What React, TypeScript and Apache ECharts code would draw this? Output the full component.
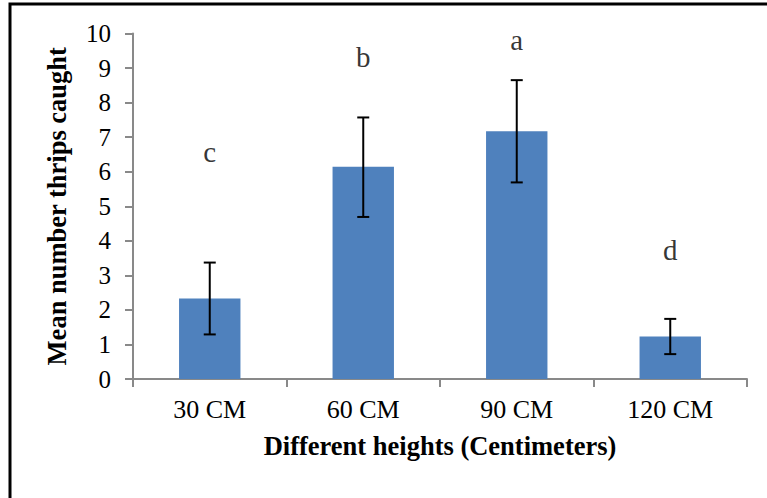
import React, { useEffect, useRef } from "react";
import * as echarts from "echarts";

const categories = ["30 CM", "60 CM", "90 CM", "120 CM"];
const meanValues = [2.33, 6.14, 7.17, 1.23];
const errorLow = [1.29, 4.69, 5.69, 0.72];
const errorHigh = [3.37, 7.57, 8.65, 1.74];
const letters = ["c", "b", "a", "d"];
const letterPositions = [6.57, 9.33, 9.8, 3.73];
const yTicks = { min: 0, max: 10, interval: 1 };

const FONT = "'Liberation Serif', 'Times New Roman', serif";
const AXIS_COLOR = "#898989";

export default function App() {
  const ref = useRef<HTMLDivElement>(null);
  useEffect(() => {
    if (!ref.current) return;
    const chart = echarts.init(ref.current, undefined, { renderer: "svg" });
    const errData = categories.map((_, i) => [i, errorLow[i], errorHigh[i]]);
    const letterData = categories.map((_, i) => [i, letterPositions[i], letters[i]]);
    chart.setOption({
      animation: false,
      backgroundColor: "#ffffff",
      graphic: [
        {
          type: "rect",
          shape: { x: 10, y: 4, width: 900, height: 700 },
          style: { fill: "none", stroke: "#000", lineWidth: 3 },
          silent: true,
        },
      ],
      grid: { left: 133, right: 20, top: 33.5, bottom: 119, containLabel: false },
      xAxis: {
        type: "category",
        data: categories,
        boundaryGap: true,
        name: "Different heights (Centimeters)",
        nameLocation: "middle",
        nameGap: 53,
        nameTextStyle: { fontFamily: FONT, fontSize: 26.5, fontWeight: "bold", color: "#000" },
        axisLine: { lineStyle: { color: AXIS_COLOR, width: 2 } },
        axisTick: { show: true, alignWithLabel: false, length: 8, lineStyle: { color: AXIS_COLOR, width: 2 } },
        axisLabel: { fontFamily: FONT, fontSize: 26, color: "#000", margin: 17 },
        splitLine: { show: false },
      },
      yAxis: {
        type: "value",
        min: yTicks.min,
        max: yTicks.max,
        interval: yTicks.interval,
        name: "Mean number thrips caught",
        nameLocation: "middle",
        nameGap: 63,
        nameRotate: 90,
        nameTextStyle: { fontFamily: FONT, fontSize: 26.5, fontWeight: "bold", color: "#000" },
        axisLine: { show: true, lineStyle: { color: AXIS_COLOR, width: 2 } },
        axisTick: { show: true, length: 8, lineStyle: { color: AXIS_COLOR, width: 2 } },
        axisLabel: { fontFamily: FONT, fontSize: 25, color: "#000", margin: 22 },
        splitLine: { show: false },
      },
      series: [
        {
          type: "bar",
          data: meanValues,
          barWidth: "40%",
          itemStyle: { color: "#4F81BD" },
        },
        {
          type: "custom",
          data: errData,
          z: 10,
          renderItem: (params: any, api: any) => {
            const x = api.value(0);
            const lo = api.coord([x, api.value(1)]);
            const hi = api.coord([x, api.value(2)]);
            const half = 6;
            const style = { stroke: "#000", lineWidth: 2 };
            return {
              type: "group",
              children: [
                { type: "line", shape: { x1: lo[0], y1: lo[1], x2: hi[0], y2: hi[1] }, style },
                { type: "line", shape: { x1: hi[0] - half, y1: hi[1], x2: hi[0] + half, y2: hi[1] }, style },
                { type: "line", shape: { x1: lo[0] - half, y1: lo[1], x2: lo[0] + half, y2: lo[1] }, style },
              ],
            };
          },
        },
        {
          type: "scatter",
          data: letterData,
          symbolSize: 0,
          label: {
            show: true,
            position: "inside",
            formatter: (p: any) => p.value[2],
            fontFamily: FONT,
            fontSize: 29,
            color: "#000",
          },
        },
      ],
    });
    return () => chart.dispose();
  }, []);
  return (
    <div
      ref={ref}
      style={{ position: "fixed", left: 0, top: 0, width: 767, height: 498, background: "#fff" }}
    />
  );
}
